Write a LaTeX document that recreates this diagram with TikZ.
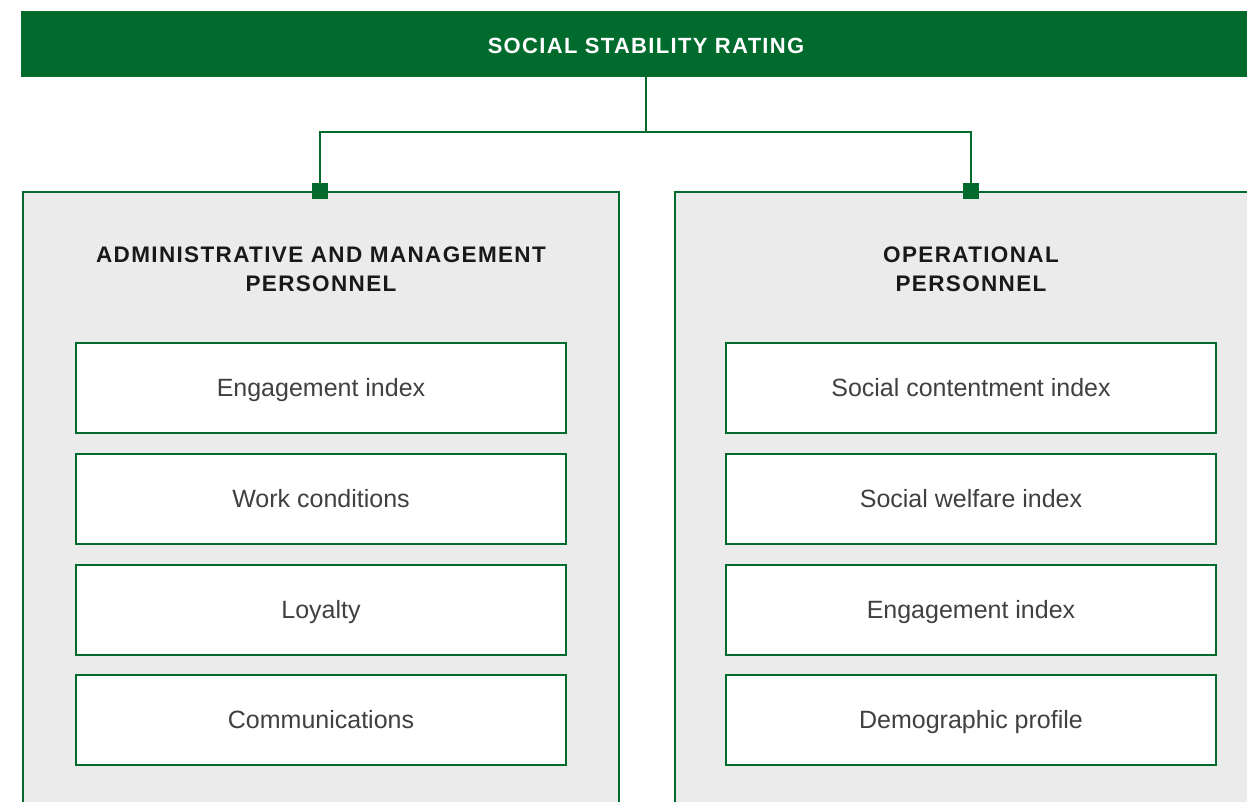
\documentclass[tikz,border=0pt]{standalone}
\usepackage{fontspec}
\setmainfont{Liberation Sans}
\newfontfamily\lightfont{Liberation Sans}
\newfontfamily\headfont{Liberation Sans}[LetterSpace=6.0]
\definecolor{sgreen}{HTML}{006B2D}
\definecolor{sgray}{HTML}{EBEBEB}
\definecolor{stext}{HTML}{404040}
\tikzset{
  panel/.style={draw=sgreen, line width=2pt, fill=sgray, rectangle, inner sep=0pt},
  itembox/.style={draw=sgreen, line width=2.5pt, fill=white, rectangle, inner sep=0pt,
    minimum width=490pt, minimum height=90pt, text height=17.9pt, text depth=0pt,
    font=\lightfont\fontsize{25}{28}\selectfont, text=stext},
  headtxt/.style={font=\headfont\bfseries\fontsize{22.5}{29}\selectfont, text=black!90, align=center},
  conn/.style={draw=sgreen, line width=2.5pt},
  marker/.style={fill=sgreen, rectangle, inner sep=0pt, minimum size=16pt}
}
\begin{document}
\begin{tikzpicture}[x=1pt,y=-1pt]
\useasboundingbox (0,0) rectangle (1247,801);
\clip (0,0) rectangle (1247,801);
\fill[white] (0,0) rectangle (1247,801);
% banner
\node[fill=sgreen, rectangle, inner sep=0pt, minimum width=1239pt, minimum height=66pt] (banner) at (640.5,44) {};
\node[font=\headfont\bfseries\fontsize{22}{25}\selectfont, text=white, anchor=base] (title) at (646,53) {SOCIAL STABILITY RATING};
% panels
\node[panel, minimum width=596pt, minimum height=660pt, anchor=north] (pl) at (321,191) {};
\node[panel, minimum width=600pt, minimum height=660pt, anchor=north west] (pr) at (674,191) {};
% connectors
\coordinate (j) at (646,132);
\node[marker] (ml) at (320,191) {};
\node[marker] (mr) at (971,191) {};
\draw[conn] (banner.south -| j) -- (j);
\draw[conn] (ml.center) |- (j) -| (mr.center);
% headers
\node[headtxt, anchor=base] (hl) at (321,291) {ADMINISTRATIVE AND MANAGEMENT\\PERSONNEL};
\node[headtxt, anchor=base] (hr) at (971,291) {OPERATIONAL\\PERSONNEL};
% items left
\node[itembox] (l1) at (321,388) {Engagement index};
\node[itembox] (l2) at (321,499) {Work conditions};
\node[itembox] (l3) at (321,610) {Loyalty};
\node[itembox] (l4) at (321,720) {Communications};
% items right
\node[itembox] (r1) at (971,388) {Social contentment index};
\node[itembox] (r2) at (971,499) {Social welfare index};
\node[itembox] (r3) at (971,610) {Engagement index};
\node[itembox] (r4) at (971,720) {Demographic profile};
\end{tikzpicture}
\end{document}
